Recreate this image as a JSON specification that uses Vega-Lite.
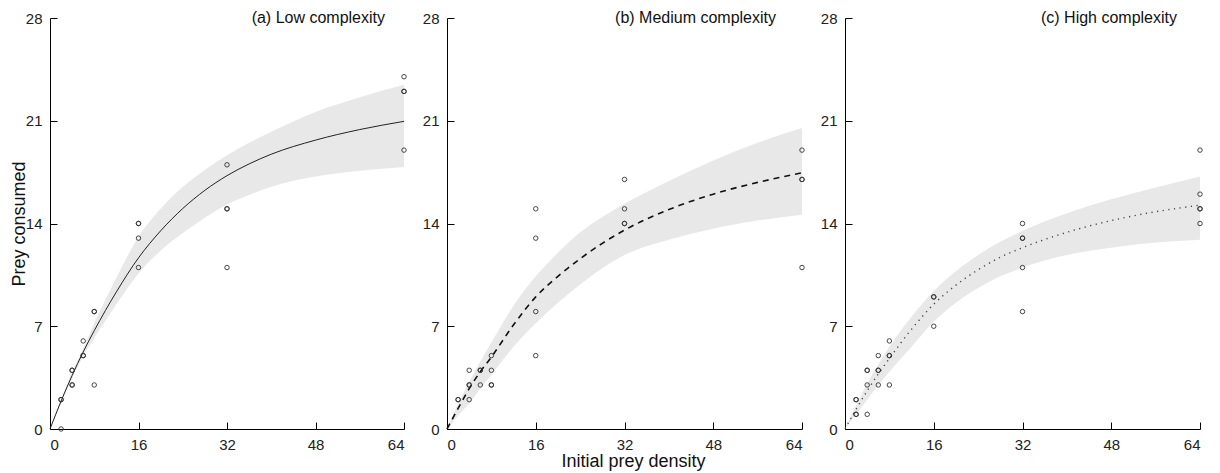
{
  "$schema": "https://vega.github.io/schema/vega-lite/v6.json",
  "padding": {"left": 10, "top": 10, "right": 5, "bottom": 1},
  "spacing": 13,
  "config": {
    "view": {"stroke": null},
    "font": "Liberation Sans",
    "axis": {
      "grid": false,
      "domainColor": "#000",
      "domainWidth": 1,
      "tickColor": "#000",
      "tickWidth": 1,
      "tickSize": -7,
      "labelPadding": 15,
      "labelColor": "#222",
      "labelFont": "Liberation Sans",
      "labelFontSize": 15,
      "titleFont": "Liberation Sans",
      "titleFontSize": 18,
      "titleFontWeight": "normal",
      "titleColor": "#111"
    },
    "axisX": {"titlePadding": 0},
    "axisY": {"titlePadding": -3}
  },
  "datasets": {
    "pts": [
      {"p":"a","x":2,"y":2},{"p":"a","x":2,"y":2},{"p":"a","x":2,"y":0},
      {"p":"a","x":4,"y":4},{"p":"a","x":4,"y":4},{"p":"a","x":4,"y":3},{"p":"a","x":4,"y":3},
      {"p":"a","x":6,"y":6},{"p":"a","x":6,"y":5},{"p":"a","x":6,"y":5},
      {"p":"a","x":8,"y":8},{"p":"a","x":8,"y":8},{"p":"a","x":8,"y":3},
      {"p":"a","x":16,"y":14},{"p":"a","x":16,"y":14},{"p":"a","x":16,"y":13},{"p":"a","x":16,"y":11},
      {"p":"a","x":32,"y":18},{"p":"a","x":32,"y":15},{"p":"a","x":32,"y":15},{"p":"a","x":32,"y":11},
      {"p":"a","x":64,"y":24},{"p":"a","x":64,"y":23},{"p":"a","x":64,"y":23},{"p":"a","x":64,"y":19},
      {"p":"b","x":2,"y":2},{"p":"b","x":2,"y":2},
      {"p":"b","x":4,"y":4},{"p":"b","x":4,"y":3},{"p":"b","x":4,"y":3},{"p":"b","x":4,"y":2},
      {"p":"b","x":6,"y":4},{"p":"b","x":6,"y":4},{"p":"b","x":6,"y":3},
      {"p":"b","x":8,"y":5},{"p":"b","x":8,"y":4},{"p":"b","x":8,"y":3},{"p":"b","x":8,"y":3},
      {"p":"b","x":16,"y":15},{"p":"b","x":16,"y":13},{"p":"b","x":16,"y":8},{"p":"b","x":16,"y":5},
      {"p":"b","x":32,"y":17},{"p":"b","x":32,"y":15},{"p":"b","x":32,"y":14},{"p":"b","x":32,"y":14},
      {"p":"b","x":64,"y":19},{"p":"b","x":64,"y":17},{"p":"b","x":64,"y":17},{"p":"b","x":64,"y":11},
      {"p":"c","x":2,"y":2},{"p":"c","x":2,"y":2},{"p":"c","x":2,"y":1},{"p":"c","x":2,"y":1},
      {"p":"c","x":4,"y":4},{"p":"c","x":4,"y":4},{"p":"c","x":4,"y":3},{"p":"c","x":4,"y":1},
      {"p":"c","x":6,"y":5},{"p":"c","x":6,"y":4},{"p":"c","x":6,"y":4},{"p":"c","x":6,"y":3},
      {"p":"c","x":8,"y":6},{"p":"c","x":8,"y":5},{"p":"c","x":8,"y":5},{"p":"c","x":8,"y":3},
      {"p":"c","x":16,"y":9},{"p":"c","x":16,"y":9},{"p":"c","x":16,"y":7},
      {"p":"c","x":32,"y":14},{"p":"c","x":32,"y":13},{"p":"c","x":32,"y":13},{"p":"c","x":32,"y":11},{"p":"c","x":32,"y":8},
      {"p":"c","x":64,"y":19},{"p":"c","x":64,"y":16},{"p":"c","x":64,"y":15},{"p":"c","x":64,"y":15},{"p":"c","x":64,"y":14}
    ],
    "fit": [
      {"p":"a","x":0,"y":0,"lo":0,"hi":0},
      {"p":"a","x":2,"y":1.9,"lo":1.8,"hi":2.0},
      {"p":"a","x":4,"y":3.65,"lo":3.45,"hi":3.85},
      {"p":"a","x":6,"y":5.25,"lo":4.95,"hi":5.5},
      {"p":"a","x":8,"y":6.7,"lo":6.2,"hi":7.2},
      {"p":"a","x":12,"y":9.34,"lo":8.5,"hi":10.3},
      {"p":"a","x":16,"y":11.66,"lo":10.6,"hi":13.1},
      {"p":"a","x":20,"y":13.5,"lo":12.15,"hi":15.0},
      {"p":"a","x":24,"y":15.02,"lo":13.35,"hi":16.5},
      {"p":"a","x":28,"y":16.26,"lo":14.4,"hi":17.65},
      {"p":"a","x":32,"y":17.26,"lo":15.3,"hi":18.65},
      {"p":"a","x":36,"y":18.06,"lo":15.95,"hi":19.5},
      {"p":"a","x":40,"y":18.72,"lo":16.5,"hi":20.25},
      {"p":"a","x":48,"y":19.68,"lo":17.2,"hi":21.6},
      {"p":"a","x":56,"y":20.4,"lo":17.6,"hi":22.6},
      {"p":"a","x":64,"y":20.96,"lo":17.85,"hi":23.45},
      {"p":"b","x":0,"y":0,"lo":0,"hi":0},
      {"p":"b","x":2,"y":1.4,"lo":0.9,"hi":1.7},
      {"p":"b","x":4,"y":2.75,"lo":1.75,"hi":3.2},
      {"p":"b","x":6,"y":3.9,"lo":2.75,"hi":4.6},
      {"p":"b","x":8,"y":4.9,"lo":3.7,"hi":5.9},
      {"p":"b","x":12,"y":7.1,"lo":5.6,"hi":8.4},
      {"p":"b","x":16,"y":9.0,"lo":7.2,"hi":10.4},
      {"p":"b","x":20,"y":10.4,"lo":8.6,"hi":12.0},
      {"p":"b","x":24,"y":11.6,"lo":9.85,"hi":13.4},
      {"p":"b","x":28,"y":12.65,"lo":10.95,"hi":14.45},
      {"p":"b","x":32,"y":13.55,"lo":11.85,"hi":15.35},
      {"p":"b","x":40,"y":14.95,"lo":12.9,"hi":16.9},
      {"p":"b","x":48,"y":16.0,"lo":13.65,"hi":18.3},
      {"p":"b","x":56,"y":16.8,"lo":14.2,"hi":19.5},
      {"p":"b","x":64,"y":17.45,"lo":14.6,"hi":20.5},
      {"p":"c","x":0,"y":0,"lo":0,"hi":0},
      {"p":"c","x":2,"y":1.35,"lo":1.0,"hi":1.6},
      {"p":"c","x":4,"y":2.6,"lo":2.0,"hi":3.1},
      {"p":"c","x":6,"y":3.75,"lo":3.0,"hi":4.4},
      {"p":"c","x":8,"y":4.8,"lo":3.9,"hi":5.6},
      {"p":"c","x":12,"y":6.8,"lo":5.6,"hi":7.65},
      {"p":"c","x":16,"y":8.5,"lo":7.3,"hi":9.4},
      {"p":"c","x":20,"y":9.8,"lo":8.6,"hi":10.75},
      {"p":"c","x":24,"y":10.85,"lo":9.6,"hi":11.85},
      {"p":"c","x":28,"y":11.7,"lo":10.4,"hi":12.75},
      {"p":"c","x":32,"y":12.35,"lo":11.0,"hi":13.5},
      {"p":"c","x":40,"y":13.4,"lo":11.85,"hi":14.7},
      {"p":"c","x":48,"y":14.2,"lo":12.35,"hi":15.65},
      {"p":"c","x":56,"y":14.8,"lo":12.7,"hi":16.45},
      {"p":"c","x":64,"y":15.25,"lo":12.9,"hi":17.2}
    ],
    "lab": [
      {"p":"a","label":"(a) Low complexity"},
      {"p":"b","label":"(b) Medium complexity"},
      {"p":"c","label":"(c) High complexity"}
    ]
  },
  "hconcat": [
    {
      "width": 354, "height": 411,
      "layer": [
        {"data":{"name":"fit"},"transform":[{"filter":"datum.p==='a'"}],
         "mark":{"type":"area","color":"#e8e8e8","interpolate":"monotone"},
         "encoding":{
           "x":{"field":"x","type":"quantitative","title":null,"scale":{"domain":[0,64],"nice":false},"axis":{"values":[0,16,32,48,64]}},
           "y":{"field":"lo","type":"quantitative","title":"Prey consumed","scale":{"domain":[0,28],"nice":false},"axis":{"values":[0,7,14,21,28]}},
           "y2":{"field":"hi"}}},
        {"data":{"name":"fit"},"transform":[{"filter":"datum.p==='a'"}],
         "mark":{"type":"line","color":"#222","strokeWidth":1,"interpolate":"monotone"},
         "encoding":{
           "x":{"field":"x","type":"quantitative","title":null,"scale":{"domain":[0,64],"nice":false},"axis":{"values":[0,16,32,48,64]}},
           "y":{"field":"y","type":"quantitative","title":"Prey consumed","scale":{"domain":[0,28],"nice":false},"axis":{"values":[0,7,14,21,28]}}}},
        {"data":{"name":"pts"},"transform":[{"filter":"datum.p==='a'"}],
         "mark":{"type":"point","shape":"circle","filled":false,"size":20,"color":"#333","strokeWidth":1,"opacity":0.9},
         "encoding":{
           "x":{"field":"x","type":"quantitative","title":null,"scale":{"domain":[0,64],"nice":false},"axis":{"values":[0,16,32,48,64]}},
           "y":{"field":"y","type":"quantitative","title":"Prey consumed","scale":{"domain":[0,28],"nice":false},"axis":{"values":[0,7,14,21,28]}}}},
        {"data":{"name":"lab"},"transform":[{"filter":"datum.p==='a'"}],
         "mark":{"type":"text","align":"right","baseline":"middle","dx":-19,"fontSize":16,"color":"#111","font":"Liberation Sans"},
         "encoding":{
           "x":{"datum":64,"type":"quantitative"},
           "y":{"datum":28,"type":"quantitative"},
           "text":{"field":"label"}}}
      ]
    },
    {
      "width": 355, "height": 411,
      "layer": [
        {"data":{"name":"fit"},"transform":[{"filter":"datum.p==='b'"}],
         "mark":{"type":"area","color":"#e8e8e8","interpolate":"monotone"},
         "encoding":{
           "x":{"field":"x","type":"quantitative","title":"Initial prey density","scale":{"domain":[0,64],"nice":false},"axis":{"values":[0,16,32,48,64],"titleX":186}},
           "y":{"field":"lo","type":"quantitative","title":null,"scale":{"domain":[0,28],"nice":false},"axis":{"values":[0,7,14,21,28]}},
           "y2":{"field":"hi"}}},
        {"data":{"name":"fit"},"transform":[{"filter":"datum.p==='b'"}],
         "mark":{"type":"line","color":"#111","strokeWidth":1.6,"strokeDash":[6,5],"interpolate":"monotone"},
         "encoding":{
           "x":{"field":"x","type":"quantitative","title":"Initial prey density","scale":{"domain":[0,64],"nice":false},"axis":{"values":[0,16,32,48,64],"titleX":186}},
           "y":{"field":"y","type":"quantitative","title":null,"scale":{"domain":[0,28],"nice":false},"axis":{"values":[0,7,14,21,28]}}}},
        {"data":{"name":"pts"},"transform":[{"filter":"datum.p==='b'"}],
         "mark":{"type":"point","shape":"circle","filled":false,"size":20,"color":"#333","strokeWidth":1,"opacity":0.9},
         "encoding":{
           "x":{"field":"x","type":"quantitative","title":"Initial prey density","scale":{"domain":[0,64],"nice":false},"axis":{"values":[0,16,32,48,64],"titleX":186}},
           "y":{"field":"y","type":"quantitative","title":null,"scale":{"domain":[0,28],"nice":false},"axis":{"values":[0,7,14,21,28]}}}},
        {"data":{"name":"lab"},"transform":[{"filter":"datum.p==='b'"}],
         "mark":{"type":"text","align":"right","baseline":"middle","dx":-26,"fontSize":16,"color":"#111","font":"Liberation Sans"},
         "encoding":{
           "x":{"datum":64,"type":"quantitative"},
           "y":{"datum":28,"type":"quantitative"},
           "text":{"field":"label"}}}
      ]
    },
    {
      "width": 355, "height": 411,
      "layer": [
        {"data":{"name":"fit"},"transform":[{"filter":"datum.p==='c'"}],
         "mark":{"type":"area","color":"#e8e8e8","interpolate":"monotone"},
         "encoding":{
           "x":{"field":"x","type":"quantitative","title":null,"scale":{"domain":[0,64],"nice":false},"axis":{"values":[0,16,32,48,64]}},
           "y":{"field":"lo","type":"quantitative","title":null,"scale":{"domain":[0,28],"nice":false},"axis":{"values":[0,7,14,21,28]}},
           "y2":{"field":"hi"}}},
        {"data":{"name":"fit"},"transform":[{"filter":"datum.p==='c'"}],
         "mark":{"type":"line","color":"#444","strokeWidth":1.4,"strokeDash":[1.2,4.5],"interpolate":"monotone"},
         "encoding":{
           "x":{"field":"x","type":"quantitative","title":null,"scale":{"domain":[0,64],"nice":false},"axis":{"values":[0,16,32,48,64]}},
           "y":{"field":"y","type":"quantitative","title":null,"scale":{"domain":[0,28],"nice":false},"axis":{"values":[0,7,14,21,28]}}}},
        {"data":{"name":"pts"},"transform":[{"filter":"datum.p==='c'"}],
         "mark":{"type":"point","shape":"circle","filled":false,"size":20,"color":"#333","strokeWidth":1,"opacity":0.9},
         "encoding":{
           "x":{"field":"x","type":"quantitative","title":null,"scale":{"domain":[0,64],"nice":false},"axis":{"values":[0,16,32,48,64]}},
           "y":{"field":"y","type":"quantitative","title":null,"scale":{"domain":[0,28],"nice":false},"axis":{"values":[0,7,14,21,28]}}}},
        {"data":{"name":"lab"},"transform":[{"filter":"datum.p==='c'"}],
         "mark":{"type":"text","align":"right","baseline":"middle","dx":-23,"fontSize":16,"color":"#111","font":"Liberation Sans"},
         "encoding":{
           "x":{"datum":64,"type":"quantitative"},
           "y":{"datum":28,"type":"quantitative"},
           "text":{"field":"label"}}}
      ]
    }
  ]
}
